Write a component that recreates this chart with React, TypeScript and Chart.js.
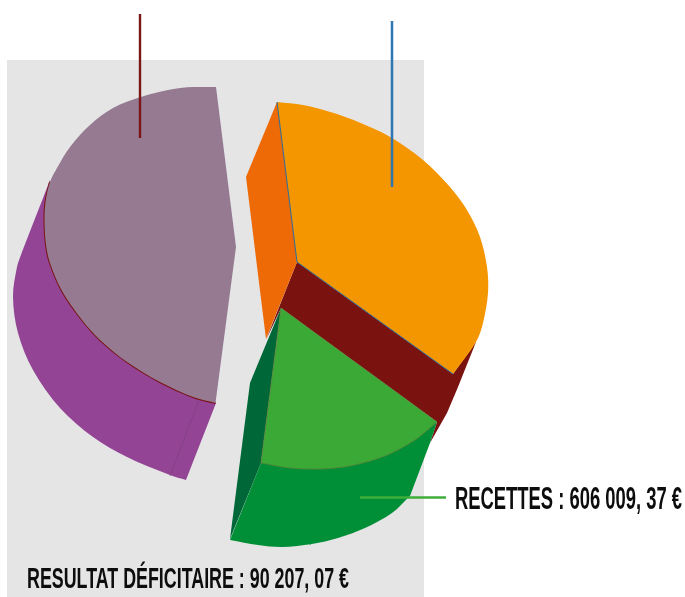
import React, { useEffect, useRef } from "react";
import { Chart, registerables } from "chart.js";

Chart.register(...registerables);

type P = [number, number];

// Outlines, in the value space of the two linear axes.
// A point listed twice is a sharp corner of the outline; the others lie on a curved rim.
const panel: P[] = [[7, 60], [424, 60], [424, 597], [7, 597]];

const expenseSide: P[] = [
  [50, 180], [22, 252], [22, 252], [17, 267], [13, 297], [18, 333], [33, 370], [60, 408], [93, 437], [127, 457],
  [170, 475], [186, 480], [186, 480], [216, 403], [216, 403], [120, 300], [120, 300], [60, 220],
];
const expenseRim: P[] = [
  [50, 182], [45.5, 202], [44.5, 222], [46, 245], [50, 263], [62, 291], [82, 320], [100, 340], [127, 362], [160, 382],
  [193, 397], [215.5, 403],
];
const expenseTop: P[] = [
  [216, 87], [187, 87.3], [160, 91.7], [140, 97.3], [113, 108], [90, 125], [70, 147], [57, 168], [50, 182], [45.5, 202],
  [44.5, 222], [46, 245], [50, 263], [62, 291], [82, 320], [100, 340], [127, 362], [160, 382], [193, 397],
  [215.5, 403], [215.5, 403], [236, 247], [236, 247],
];
const expenseSeam: P[] = [[199, 400], [170, 476]];

const incomeInnerFace: P[] = [[277, 102], [277, 102], [246, 177], [246, 177], [266, 339], [266, 339], [297, 262]];
const incomeSide: P[] = [
  [297, 262], [297, 262], [453, 374], [453, 374], [476, 342], [476, 342], [458, 387], [458, 387], [447, 413], [447, 413],
  [430, 443], [430, 443], [437, 422], [437, 422], [281, 308], [281, 308], [266, 340], [266, 340],
];
const incomeTop: P[] = [
  [277, 102], [303, 105], [337, 114], [370, 127], [392, 138], [423, 160], [450, 187], [467, 210], [480, 237],
  [487, 267], [488, 293], [483, 323], [476, 342], [453, 374], [453, 374], [297, 262], [297, 262],
];
const incomeEdge: P[] = [[277, 102], [297, 262], [297, 262], [453, 374]];

const deficitInnerFace: P[] = [[281, 308], [281, 308], [250, 383], [250, 383], [230, 539], [230, 539], [261, 463]];
const deficitSide: P[] = [
  [261, 463], [261, 463], [437, 422], [437, 422], [430, 443], [430, 443], [410, 496], [410, 496], [392, 513], [365, 528],
  [338, 538], [312, 544], [282, 547], [258, 545], [230, 540], [230, 540],
];
const deficitTop: P[] = [
  [281, 308], [281, 308], [437, 422], [437, 422], [415, 440], [385, 456], [350, 466], [320, 469], [290, 468],
  [261, 463], [261, 463],
];
const deficitEdge: P[] = [...deficitTop, [281, 308]];
const deficitSeam: P[] = [[339, 468], [310, 545]];

const leaderExpense: P[] = [[140, 14], [140, 138]];
const leaderIncome: P[] = [[392, 21], [392, 187]];
const leaderDeficit: P[] = [[360, 497.5], [446, 497.5]];

const labelTexts = ["RECETTES : 606 009, 37 €", "RESULTAT DÉFICITAIRE : 90 207, 07 €"];

const toPts = (pts: P[]) => pts.map(([x, y]) => ({ x, y }));

const area = (pts: P[], color: string) => ({
  data: toPts(pts),
  showLine: true,
  fill: "shape",
  backgroundColor: color,
  borderColor: color,
  borderWidth: 0,
  pointRadius: 0,
  tension: 0.33,
});
const stroke = (pts: P[], color: string, width: number) => ({
  data: toPts(pts),
  showLine: true,
  fill: false,
  borderColor: color,
  borderWidth: width,
  pointRadius: 0,
  tension: 0.33,
});

const labelsPlugin = {
  id: "calloutText",
  afterDatasetsDraw(chart: any) {
    const { ctx, scales } = chart;
    const spots = [
      { x0: 455, x1: 682, y: 509, size: 32 },
      { x0: 27, x1: 349, y: 588, size: 29 },
    ];
    labelTexts.forEach((t, i) => {
      const s = spots[i];
      ctx.save();
      ctx.font = `bold ${s.size}px "Liberation Sans Narrow", "Liberation Sans", sans-serif`;
      ctx.fillStyle = "#0d0d0d";
      ctx.textBaseline = "alphabetic";
      const left = scales.x.getPixelForValue(s.x0);
      const right = scales.x.getPixelForValue(s.x1);
      const k = (right - left) / ctx.measureText(t).width;
      ctx.translate(left, scales.y.getPixelForValue(s.y));
      ctx.scale(k, 1);
      ctx.fillText(t, 0, 0);
      ctx.restore();
    });
  },
};

export default function App() {
  const ref = useRef<HTMLCanvasElement>(null);
  useEffect(() => {
    document.body.style.margin = "0";
    const layers: any[] = [
      { ...area(panel, "#e5e5e5"), tension: 0 },
      area(expenseSide, "#934495"),
      stroke(expenseSeam, "#7f3f80", 0.7),
      stroke(expenseRim, "#7a1210", 2),
      area(expenseTop, "#957a92"),
      area(incomeSide, "#7a1210"),
      area(incomeInnerFace, "#ed6a07"),
      area(incomeTop, "#f49600"),
      stroke(incomeEdge, "#2a6a9a", 1),
      area(deficitInnerFace, "#006838"),
      area(deficitSide, "#008f36"),
      stroke(deficitSeam, "#058a37", 0.7),
      area(deficitTop, "#3ba935"),
      stroke(deficitEdge, "#5b8038", 0.8),
      stroke(leaderExpense, "#7c1515", 2.4),
      stroke(leaderIncome, "#2e75b6", 2.5),
      stroke(leaderDeficit, "#3fae3a", 2.5),
    ];
    layers.forEach((d, i) => (d.order = layers.length - i));
    const chart = new Chart(ref.current!, {
      type: "scatter",
      data: { datasets: layers },
      options: {
        animation: false,
        responsive: false,
        maintainAspectRatio: false,
        layout: { padding: 0 },
        plugins: { legend: { display: false }, tooltip: { enabled: false }, title: { display: false } },
        scales: {
          x: { type: "linear", min: 0, max: 685, display: false },
          y: { type: "linear", min: 0, max: 597, reverse: true, display: false },
        },
      },
      plugins: [labelsPlugin],
    } as any);
    return () => chart.destroy();
  }, []);
  return <canvas ref={ref} width={685} height={597} style={{ display: "block" }} />;
}
